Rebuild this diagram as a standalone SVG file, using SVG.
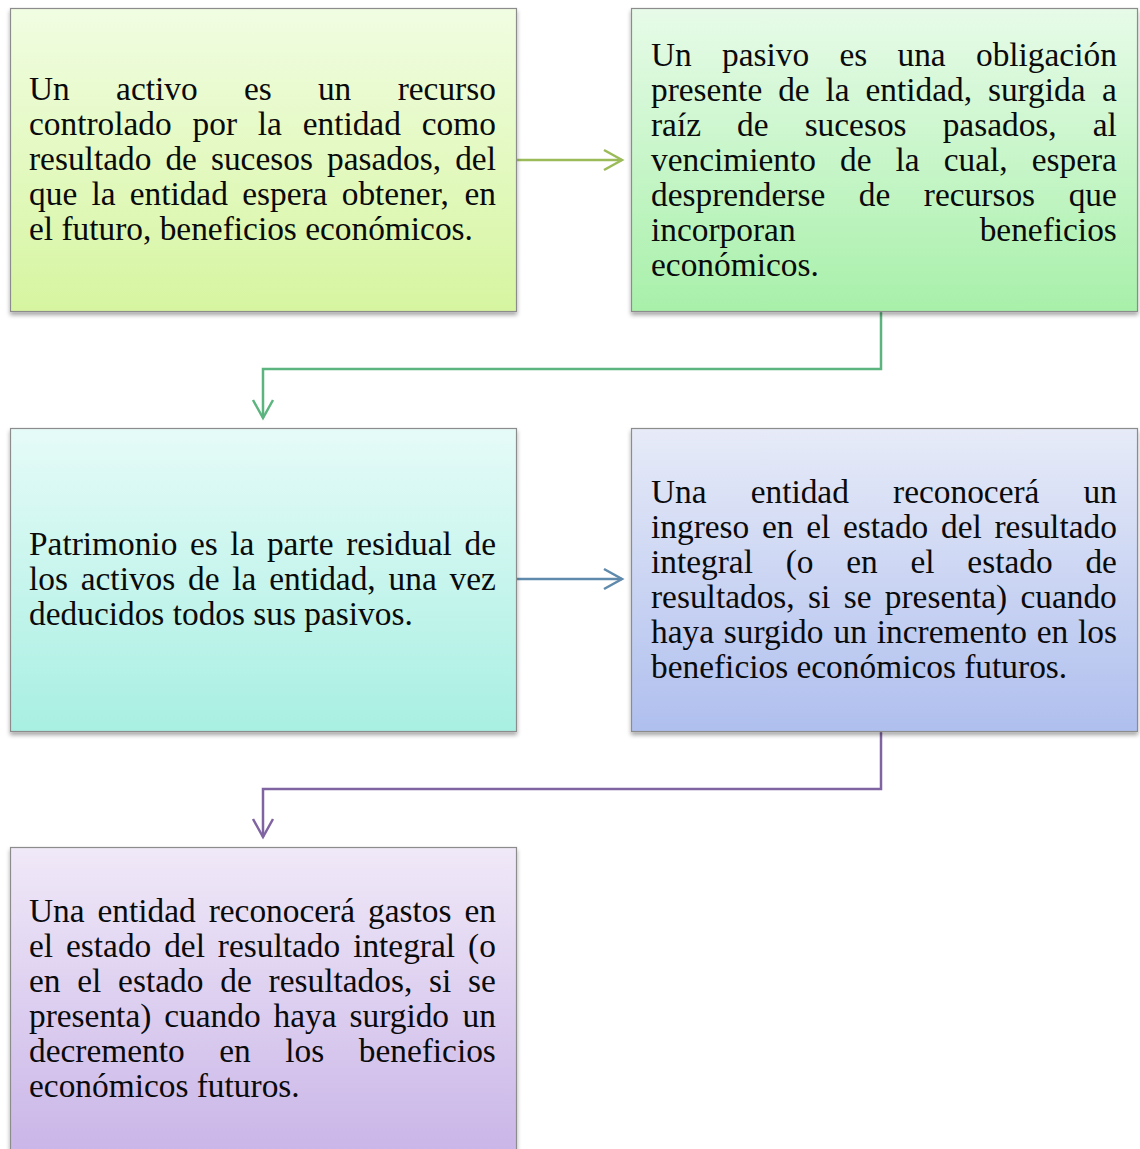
<svg xmlns="http://www.w3.org/2000/svg" width="1140" height="1149" viewBox="0 0 1140 1149">
  <style>
    .box { stroke: #8c8c8c; stroke-width: 1.2; filter: url(#shadow); }
    .t { font-family: "Liberation Serif", "Times New Roman", serif; font-size: 29.5px; fill: #0a0a0a; }
    .c { fill: none; stroke-width: 2.5; }
  </style>
  <defs>
    <filter id="shadow" x="-5%" y="-5%" width="115%" height="115%">
      <feDropShadow dx="0" dy="3" stdDeviation="2.2" flood-color="#000" flood-opacity="0.35"/>
    </filter>
    <linearGradient id="g1" x1="0" y1="0" x2="0" y2="1">
      <stop offset="0" stop-color="#f1fde2"/>
      <stop offset="1" stop-color="#d6f5a0"/>
    </linearGradient>
    <linearGradient id="g2" x1="0" y1="0" x2="0" y2="1">
      <stop offset="0" stop-color="#e7fbe8"/>
      <stop offset="1" stop-color="#a8f0aa"/>
    </linearGradient>
    <linearGradient id="g3" x1="0" y1="0" x2="0" y2="1">
      <stop offset="0" stop-color="#e6fbf8"/>
      <stop offset="1" stop-color="#a8efe2"/>
    </linearGradient>
    <linearGradient id="g4" x1="0" y1="0" x2="0" y2="1">
      <stop offset="0" stop-color="#e7ebf8"/>
      <stop offset="1" stop-color="#afbfee"/>
    </linearGradient>
    <linearGradient id="g5" x1="0" y1="0" x2="0" y2="1">
      <stop offset="0" stop-color="#f0e9f8"/>
      <stop offset="1" stop-color="#c8b3e7"/>
    </linearGradient>
    <marker id="aGreen" markerUnits="userSpaceOnUse" markerWidth="22" markerHeight="24" refX="19" refY="11" orient="auto" overflow="visible">
      <path d="M1,1 L19,11 L1,21" fill="none" stroke="#9bbb59" stroke-width="2.5"/>
    </marker>
    <marker id="aTeal" markerUnits="userSpaceOnUse" markerWidth="22" markerHeight="24" refX="19" refY="11" orient="auto" overflow="visible">
      <path d="M1,1 L19,11 L1,21" fill="none" stroke="#5cb47e" stroke-width="2.5"/>
    </marker>
    <marker id="aBlue" markerUnits="userSpaceOnUse" markerWidth="22" markerHeight="24" refX="19" refY="11" orient="auto" overflow="visible">
      <path d="M1,1 L19,11 L1,21" fill="none" stroke="#5f8aab" stroke-width="2.5"/>
    </marker>
    <marker id="aPurple" markerUnits="userSpaceOnUse" markerWidth="22" markerHeight="24" refX="19" refY="11" orient="auto" overflow="visible">
      <path d="M1,1 L19,11 L1,21" fill="none" stroke="#8064a2" stroke-width="2.5"/>
    </marker>
  </defs>

  <rect width="1140" height="1149" fill="#fff"/>

  <!-- connectors -->
  <g id="connectors">
    <path class="c" d="M516,160 H622" stroke="#9bbb59" marker-end="url(#aGreen)"/>
    <path class="c" d="M881,311 V369 H263 V418" stroke="#5cb47e" marker-end="url(#aTeal)"/>
    <path class="c" d="M516,579 H622" stroke="#5f8aab" marker-end="url(#aBlue)"/>
    <path class="c" d="M881,732 V789 H263 V837" stroke="#8064a2" marker-end="url(#aPurple)"/>
  </g>

  <!-- text blocks use a local unit where 29.5 = one em; lines sit 35px apart on screen -->

  <!-- activo -->
  <g id="node-activo">
    <rect class="box" x="10.5" y="8.5" width="506" height="303" fill="url(#g1)"/>
    <g transform="translate(29,100) scale(1.1322)">
      <text class="t" y="0"><tspan x="0">Un</tspan><tspan x="76.9">activo</tspan><tspan x="189.8">es</tspan><tspan x="255.2">un</tspan><tspan x="325.6">recurso</tspan></text>
      <text class="t" y="30.913"><tspan x="0">controlado</tspan><tspan x="144.5">por</tspan><tspan x="202.1">la</tspan><tspan x="241.7">entidad</tspan><tspan x="346.9">como</tspan></text>
      <text class="t" y="61.826"><tspan x="0">resultado</tspan><tspan x="120.5">de</tspan><tspan x="160.7">sucesos</tspan><tspan x="263.2">pasados,</tspan><tspan x="376.4">del</tspan></text>
      <text class="t" y="92.739"><tspan x="0">que</tspan><tspan x="55.1">la</tspan><tspan x="88.9">entidad</tspan><tspan x="188.3">espera</tspan><tspan x="276.2">obtener,</tspan><tspan x="384.6">en</tspan></text>
      <text class="t" x="0" y="123.652">el futuro, beneficios económicos.</text>
    </g>
  </g>

  <!-- pasivo -->
  <g id="node-pasivo">
    <rect class="box" x="631.5" y="8.5" width="506" height="303" fill="url(#g2)"/>
    <g transform="translate(651,66) scale(1.1322)">
      <text class="t" y="0"><tspan x="0">Un</tspan><tspan x="62.7">pasivo</tspan><tspan x="166.4">es</tspan><tspan x="217.7">una</tspan><tspan x="287.0">obligación</tspan></text>
      <text class="t" y="30.913"><tspan x="0">presente</tspan><tspan x="112.3">de</tspan><tspan x="154.1">la</tspan><tspan x="189.4">entidad,</tspan><tspan x="297.6">surgida</tspan><tspan x="398.4">a</tspan></text>
      <text class="t" y="61.826"><tspan x="0">raíz</tspan><tspan x="76.0">de</tspan><tspan x="135.7">sucesos</tspan><tspan x="257.6">pasados,</tspan><tspan x="390.2">al</tspan></text>
      <text class="t" y="92.739"><tspan x="0">vencimiento</tspan><tspan x="167.0">de</tspan><tspan x="216.0">la</tspan><tspan x="258.5">cual,</tspan><tspan x="336.2">espera</tspan></text>
      <text class="t" y="123.652"><tspan x="0">desprenderse</tspan><tspan x="183.6">de</tspan><tspan x="241.0">recursos</tspan><tspan x="368.9">que</tspan></text>
      <text class="t" y="154.565"><tspan x="0">incorporan</tspan><tspan x="290.3">beneficios</tspan></text>
      <text class="t" x="0" y="185.478">económicos.</text>
    </g>
  </g>

  <!-- patrimonio -->
  <g id="node-patrimonio">
    <rect class="box" x="10.5" y="428.5" width="506" height="303" fill="url(#g3)"/>
    <g transform="translate(29,555) scale(1.1322)">
      <text class="t" y="0"><tspan x="0">Patrimonio</tspan><tspan x="142.2">es</tspan><tspan x="177.8">la</tspan><tspan x="210.1">parte</tspan><tspan x="280.1">residual</tspan><tspan x="384.6">de</tspan></text>
      <text class="t" y="30.913"><tspan x="0">los</tspan><tspan x="45.7">activos</tspan><tspan x="140.5">de</tspan><tspan x="179.6">la</tspan><tspan x="212.1">entidad,</tspan><tspan x="317.6">una</tspan><tspan x="371.5">vez</tspan></text>
      <text class="t" x="0" y="61.826">deducidos todos sus pasivos.</text>
    </g>
  </g>

  <!-- ingresos -->
  <g id="node-ingresos">
    <rect class="box" x="631.5" y="428.5" width="506" height="303" fill="url(#g4)"/>
    <g transform="translate(651,503) scale(1.1322)">
      <text class="t" y="0"><tspan x="0">Una</tspan><tspan x="88.0">entidad</tspan><tspan x="213.8">reconocerá</tspan><tspan x="382.0">un</tspan></text>
      <text class="t" y="30.913"><tspan x="0">ingreso</tspan><tspan x="98.0">en</tspan><tspan x="137.1">el</tspan><tspan x="169.6">estado</tspan><tspan x="256.1">del</tspan><tspan x="303.4">resultado</tspan></text>
      <text class="t" y="61.826"><tspan x="0">integral</tspan><tspan x="119.0">(o</tspan><tspan x="172.5">en</tspan><tspan x="229.2">el</tspan><tspan x="279.4">estado</tspan><tspan x="383.7">de</tspan></text>
      <text class="t" y="92.739"><tspan x="0">resultados,</tspan><tspan x="138.7">si</tspan><tspan x="170.2">se</tspan><tspan x="206.5">presenta)</tspan><tspan x="326.3">cuando</tspan></text>
      <text class="t" y="123.652"><tspan x="0">haya</tspan><tspan x="64.3">surgido</tspan><tspan x="161.3">un</tspan><tspan x="199.4">incremento</tspan><tspan x="340.7">en</tspan><tspan x="377.1">los</tspan></text>
      <text class="t" x="0" y="154.565">beneficios económicos futuros.</text>
    </g>
  </g>

  <!-- gastos -->
  <g id="node-gastos">
    <rect class="box" x="10.5" y="847.5" width="506" height="320" fill="url(#g5)"/>
    <g transform="translate(29,922) scale(1.1322)">
      <text class="t" y="0"><tspan x="0">Una</tspan><tspan x="60.5">entidad</tspan><tspan x="158.7">reconocerá</tspan><tspan x="299.5">gastos</tspan><tspan x="384.6">en</tspan></text>
      <text class="t" y="30.913"><tspan x="0">el</tspan><tspan x="32.7">estado</tspan><tspan x="119.4">del</tspan><tspan x="166.8">resultado</tspan><tspan x="286.3">integral</tspan><tspan x="387.8">(o</tspan></text>
      <text class="t" y="61.826"><tspan x="0">en</tspan><tspan x="42.6">el</tspan><tspan x="78.7">estado</tspan><tspan x="168.9">de</tspan><tspan x="211.6">resultados,</tspan><tspan x="353.4">si</tspan><tspan x="387.8">se</tspan></text>
      <text class="t" y="92.739"><tspan x="0">presenta)</tspan><tspan x="119.5">cuando</tspan><tspan x="216.0">haya</tspan><tspan x="283.1">surgido</tspan><tspan x="382.9">un</tspan></text>
      <text class="t" y="123.652"><tspan x="0">decremento</tspan><tspan x="168.0">en</tspan><tspan x="226.3">los</tspan><tspan x="291.2">beneficios</tspan></text>
      <text class="t" x="0" y="154.565">económicos futuros.</text>
    </g>
  </g>
</svg>
